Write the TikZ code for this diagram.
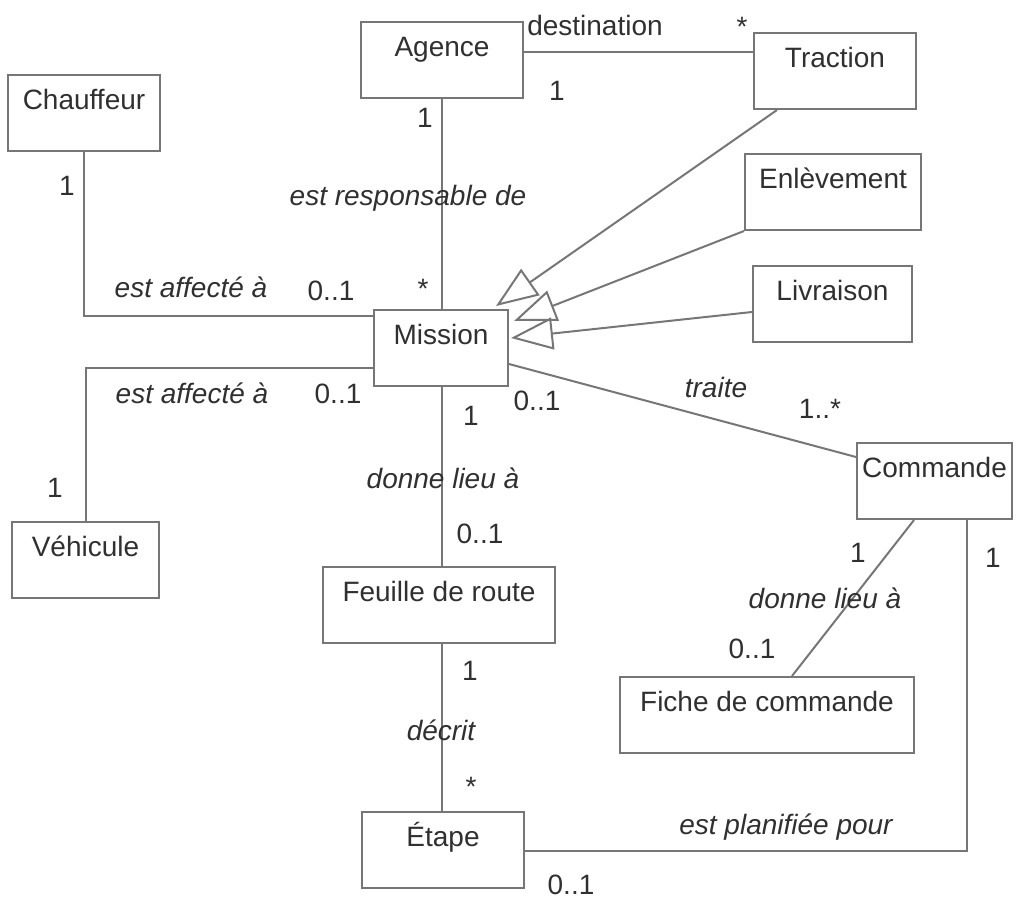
\documentclass[tikz,border=0pt]{standalone}
\usepackage{fontspec}
\setmainfont{Liberation Sans}
\usetikzlibrary{arrows.meta,calc}
\definecolor{umlline}{RGB}{118,118,118}
\definecolor{umltext}{RGB}{48,48,48}

\begin{document}
\begin{tikzpicture}[x=1pt,y=-1pt,
  font=\fontsize{28}{32}\selectfont,
  cls/.style={draw=umlline, line width=2pt, fill=white, text=umltext,
    inner sep=0pt, text height=34pt, text depth=42pt, minimum width=#1pt},
  lab/.style={text=umltext, inner sep=0pt, text height=20pt, text depth=0pt},
  role/.style={lab, font=\fontsize{28}{32}\selectfont\itshape},
  assoc/.style={draw=umlline, line width=2pt},
  gen/.style={draw=umlline, line width=2pt,
    -{Triangle[open, length=42pt, width=32pt, line width=2pt]}}
]
\useasboundingbox (0,0) rectangle (1020,900);

% classes
\node[cls=162] (agence)     at (442,60)    {Agence};
\node[cls=162] (traction)   at (835,71)    {Traction};
\node[cls=152] (chauffeur)  at (84,113)    {Chauffeur};
\node[cls=176] (enlevement) at (833,192)   {Enlèvement};
\node[cls=159] (livraison)  at (832.5,304) {Livraison};
\node[cls=134] (mission)    at (441,348)   {Mission};
\node[cls=155] (commande)   at (934.5,481) {Commande};
\node[cls=147] (vehicule)   at (85.5,560)  {Véhicule};
\node[cls=232] (feuille)    at (439,605)   {Feuille de route};
\node[cls=294] (fiche)      at (767,715)   {Fiche de commande};
\node[cls=162] (etape)      at (443,850)   {Étape};

% associations
\draw[assoc] ($(agence.north east)+(0,31)$) coordinate (dst)
  -- (dst -| traction.west);
\draw[assoc] (agence.south) -- (agence.south |- mission.north);
\draw[assoc] (chauffeur.south) |- ($(mission.north west)+(0,7)$);
\draw[assoc] (vehicule.north) |- ($(mission.north west)+(0,59)$);
\draw[assoc] (agence.south |- mission.south) -- (agence.south |- feuille.north);
\draw[assoc] (agence.south |- feuille.south) -- (agence.south |- etape.north);
\draw[assoc] ($(mission.north east)+(0,55)$) -- ($(commande.north west)+(0,15)$);
\draw[assoc] ($(commande.south west)+(58,0)$) -- ($(fiche.north west)+(173,0)$);
\draw[assoc] ($(commande.south west)+(111,0)$) |- ($(etape.north east)+(0,40)$);

% generalizations
\draw[gen] ($(traction.south west)+(24,0)$) -- ($(mission.north east)+(-13,-3)$);
\draw[gen] (enlevement.south west) -- ($(mission.north east)+(5,12)$);
\draw[gen] ($(livraison.north west)+(0,47)$) -- ($(mission.north east)+(2,29)$);

% association names and multiplicities
\node[lab]  (l1)  at (595,25)  {destination};
\node[lab]  (l2)  at (742,26)  {*};
\node[lab]  (l3)  at (557,90)  {1};
\node[lab]  (l4)  at (425,117) {1};
\node[role] (l5)  at (408,195) {est responsable de};
\node[lab]  (l6)  at (67,185)  {1};
\node[role] (l7)  at (191,287) {est affecté à};
\node[lab]  (l8)  at (331,290) {0..1};
\node[lab]  (l9)  at (423,288) {*};
\node[role] (l10) at (192,393) {est affecté à};
\node[lab]  (l11) at (338,393) {0..1};
\node[lab]  (l12) at (471,415) {1};
\node[lab]  (l13) at (537,400) {0..1};
\node[role] (l14) at (716,387) {traite};
\node[lab]  (l15) at (820,408) {1..*};
\node[lab]  (l16) at (55,487)  {1};
\node[role] (l17) at (443,478) {donne lieu à};
\node[lab]  (l18) at (480,533) {0..1};
\node[lab]  (l19) at (858,552) {1};
\node[role] (l20) at (825,598) {donne lieu à};
\node[lab]  (l21) at (752,648) {0..1};
\node[lab]  (l22) at (993,557) {1};
\node[lab]  (l23) at (470,670) {1};
\node[role] (l24) at (441,730) {décrit};
\node[lab]  (l25) at (471,786) {*};
\node[role] (l26) at (786,824) {est planifiée pour};
\node[lab]  (l27) at (571,884) {0..1};
\end{tikzpicture}
\end{document}
